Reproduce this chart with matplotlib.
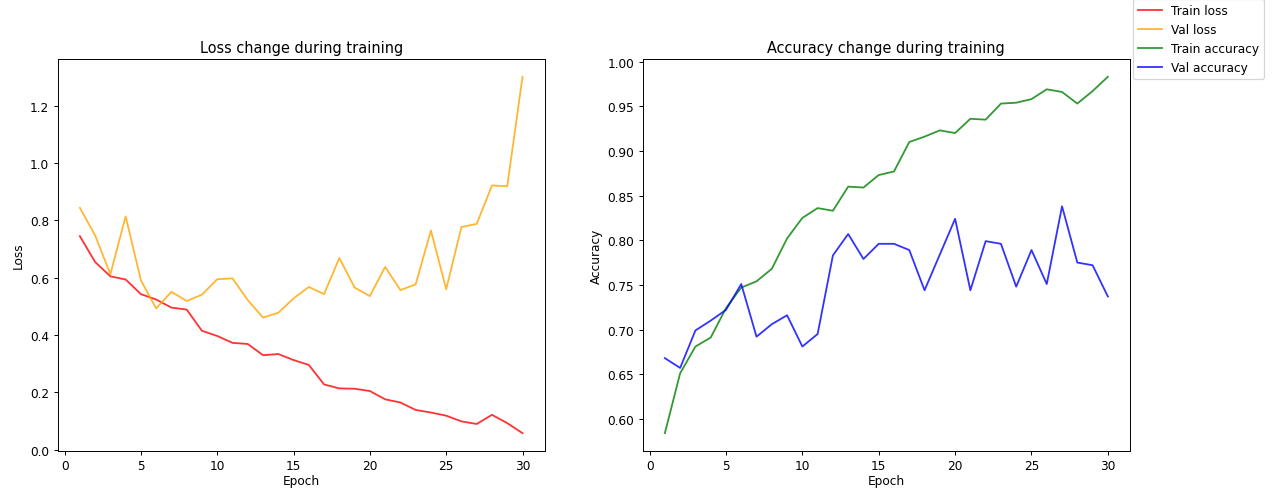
import matplotlib
matplotlib.use('Agg')
import matplotlib.pyplot as plt

epochs = list(range(1, 31))

train_loss = [0.745, 0.655, 0.605, 0.594, 0.543, 0.524, 0.496, 0.489, 0.415, 0.397,
              0.373, 0.369, 0.330, 0.334, 0.313, 0.296, 0.228, 0.214, 0.213, 0.205,
              0.176, 0.165, 0.139, 0.130, 0.119, 0.099, 0.090, 0.122, 0.093, 0.058]
val_loss = [0.844, 0.748, 0.612, 0.814, 0.591, 0.493, 0.551, 0.519, 0.541, 0.595,
            0.598, 0.522, 0.461, 0.478, 0.528, 0.568, 0.543, 0.669, 0.566, 0.536,
            0.638, 0.557, 0.577, 0.765, 0.560, 0.777, 0.788, 0.922, 0.919, 1.301]

train_acc = [0.584, 0.651, 0.681, 0.691, 0.724, 0.747, 0.754, 0.768, 0.802, 0.825,
             0.836, 0.833, 0.860, 0.859, 0.873, 0.877, 0.910, 0.916, 0.923, 0.920,
             0.936, 0.935, 0.953, 0.954, 0.958, 0.969, 0.966, 0.953, 0.967, 0.983]
val_acc = [0.668, 0.657, 0.699, 0.710, 0.722, 0.751, 0.692, 0.706, 0.716, 0.681,
           0.695, 0.783, 0.807, 0.779, 0.796, 0.796, 0.789, 0.744, 0.784, 0.824,
           0.744, 0.799, 0.796, 0.748, 0.789, 0.751, 0.838, 0.775, 0.772, 0.737]

DPI = 87
fig = plt.figure(figsize=(1277 / DPI, 490 / DPI), dpi=DPI)
ax1 = fig.add_axes([0.0452, 0.0776, 0.3813, 0.8000])
ax2 = fig.add_axes([0.5033, 0.0776, 0.3816, 0.8000])

# Loss
ax1.plot(epochs, train_loss, color='red', alpha=0.8, label='Train loss')
ax1.plot(epochs, val_loss, color='orange', alpha=0.8, label='Val loss')
ax1.set_title('Loss change during training')
ax1.set_xlabel('Epoch', labelpad=1.5)
ax1.set_ylabel('Loss')

# Accuracy
ax2.plot(epochs, train_acc, color='green', alpha=0.8, label='Train accuracy')
ax2.plot(epochs, val_acc, color='blue', alpha=0.8, label='Val accuracy')
ax2.set_title('Accuracy change during training')
ax2.set_xlabel('Epoch', labelpad=1.5)
ax2.set_ylabel('Accuracy')

fig.legend(loc='upper right', bbox_to_anchor=(0.99, 1.0), borderaxespad=0)

fig.savefig('out.png', dpi=DPI)
